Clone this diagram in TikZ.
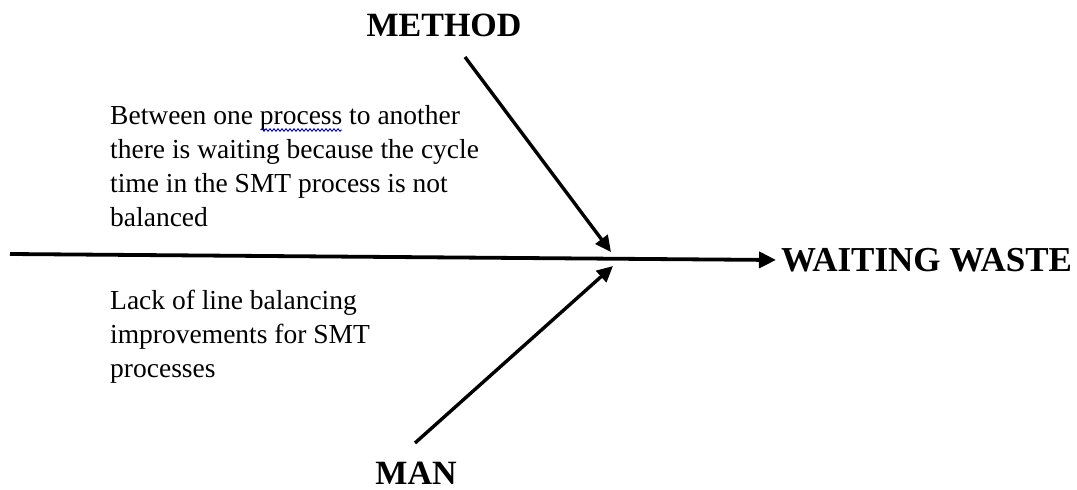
\documentclass[tikz,border=0pt]{standalone}
\usepackage{fontspec}
\setmainfont{Liberation Serif}
\usetikzlibrary{arrows.meta,decorations.pathmorphing}
\begin{document}
\begin{tikzpicture}[x=1pt,y=-1pt,
  bone/.style={line width=3.4pt,-{Triangle[length=16pt,width=15pt]}},
  spine/.style={line width=3.8pt,-{Triangle[length=17pt,width=16pt]}},
  head/.style={font=\fontsize{34}{37}\selectfont\bfseries,inner sep=0pt},
  cause/.style={font=\fontsize{27.5}{34}\selectfont,align=left,inner sep=0pt,anchor=base west},
  spell/.style={draw=blue!80!black,line width=0.9pt,decorate,
    decoration={zigzag,segment length=4pt,amplitude=1.2pt}}]
\useasboundingbox (0,0) rectangle (1077,490);

% spine and its effect
\coordinate (tail) at (10,254);
\node[head,anchor=west,font=\fontsize{35}{38}\selectfont\bfseries] (effect) at (781,260) {WAITING WASTE};
\draw[spine] (tail) -- ([xshift=-5pt]effect.west);

% category labels
\node[head,anchor=base] (method) at (444,36) {METHOD};
\node[head,anchor=base] (man) at (416,484) {MAN};

% bones
\coordinate (mstart) at (465,57);
\coordinate (mend) at (611,252);
\coordinate (nstart) at (415,443);
\coordinate (nend) at (613,266);
\draw[bone] (mstart) -- (mend);
\draw[bone] (nstart) -- (nend);

% causes (base anchor sits on the last line)
\node[cause] (c1) at (110,226) {Between one process to another\\there is waiting because the cycle\\time in the SMT process is not\\balanced};
\node[cause] (c2) at (110,377) {Lack of line balancing\\improvements for SMT\\processes};

% spell-check squiggle under a word
\coordinate (sq1) at (261,130);
\coordinate (sq2) at (342,130);
\draw[spell] (sq1) -- (sq2);
\end{tikzpicture}
\end{document}
